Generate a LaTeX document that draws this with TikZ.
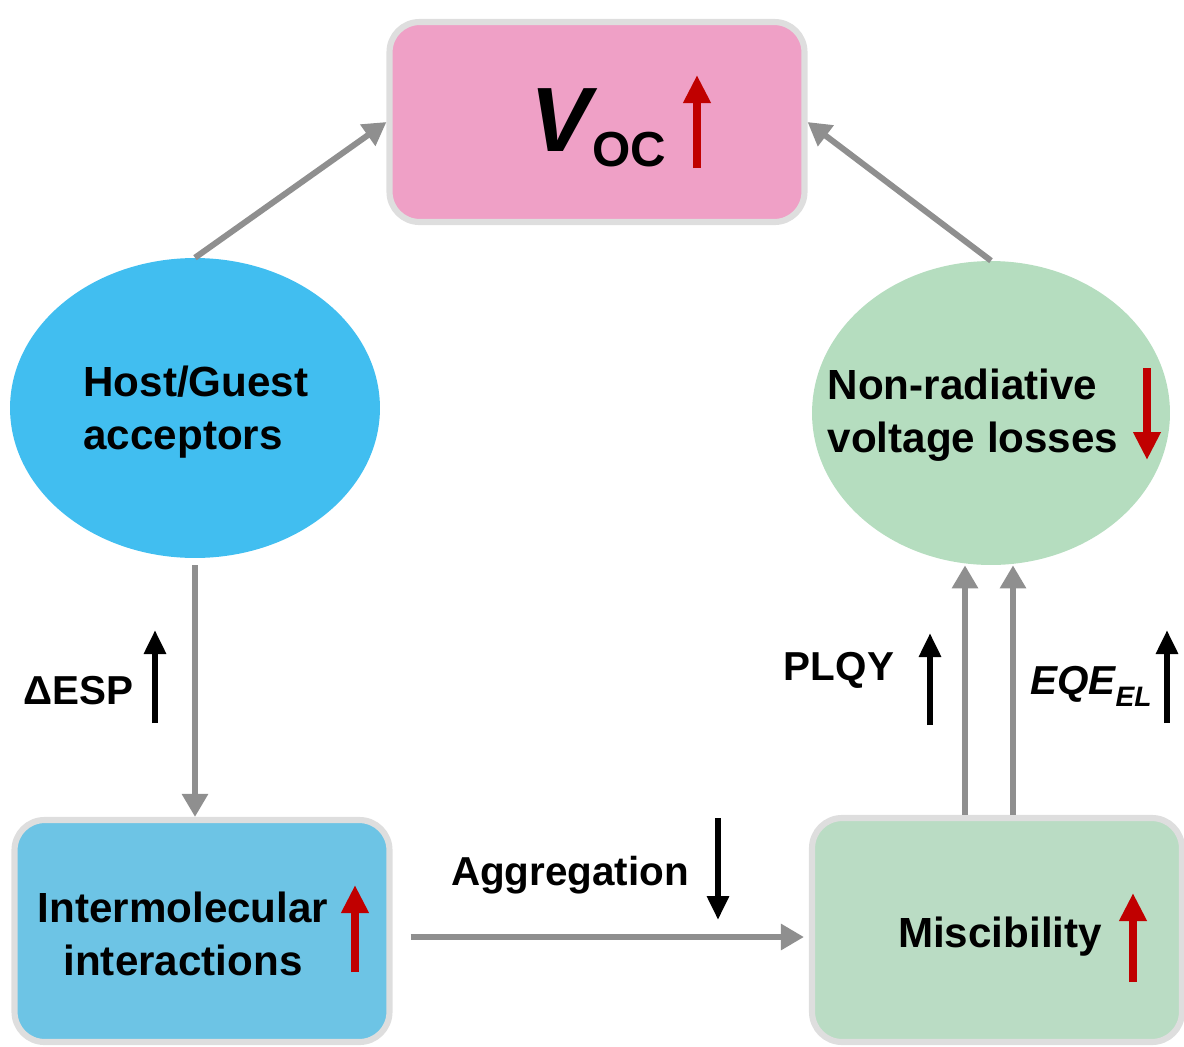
\documentclass[tikz,border=0pt]{standalone}
\usepackage{fontspec}
\setmainfont{Liberation Sans}
\usetikzlibrary{arrows.meta,shapes.geometric,calc}
\definecolor{pinkc}{HTML}{EFA0C6}
\definecolor{bluec}{HTML}{41BEF0}
\definecolor{lbluec}{HTML}{6DC4E5}
\definecolor{greenc}{HTML}{B5DDBF}
\definecolor{lgreenc}{HTML}{BADCC4}
\definecolor{bordc}{HTML}{DEDEDE}
\definecolor{connc}{HTML}{8F8F8F}
\definecolor{redc}{HTML}{C00000}
\begin{document}
\begin{tikzpicture}[x=0.02cm,y=-0.02cm,
  rbox/.style={rectangle, rounded corners=0.6cm, draw=bordc, line width=3.5pt, inner sep=0pt},
  oval/.style={ellipse, inner sep=0pt},
  conn/.style={draw=connc, line width=3.4pt, -{Triangle[width=0.5cm,length=0.46cm]}},
  redarr/.style={draw=redc, line width=4.2pt, -{Triangle[width=0.52cm,length=0.56cm]}},
  blkarr/.style={draw=black, line width=3.4pt, -{Triangle[width=0.42cm,length=0.48cm]}},
  txt/.style={font=\fontsize{24}{30}\selectfont\bfseries, inner sep=0pt},
  lbl/.style={font=\fontsize{23}{28}\selectfont\bfseries, inner sep=0pt}]
\useasboundingbox (0,0) rectangle (1184,1046);

% nodes
\node[rbox, fill=pinkc, minimum width=8.3cm, minimum height=4cm] (voc) at (597,122) {};
\node[oval, fill=bluec, minimum width=7.4cm, minimum height=6cm] (hg) at (195,408) {};
\node[oval, fill=greenc, minimum width=7.16cm, minimum height=6.08cm] (nr) at (991,413) {};
\node[rbox, fill=lbluec, minimum width=7.5cm, minimum height=4.44cm] (il) at (202,931) {};
\node[rbox, fill=lgreenc, minimum width=7.4cm, minimum height=4.48cm] (mis) at (997,930) {};

% texts
\node[inner sep=0pt, anchor=base west, font=\fontsize{52}{52}\selectfont\bfseries] (vtxt) at (530,151)
  {\itshape V\kern0.02cm\raisebox{-0.3cm}{\fontsize{28}{28}\selectfont\upshape OC}};
\node[txt, align=left] (hgtxt) at (196,412) {Host/Guest\\acceptors};
\node[txt, align=left] (nrtxt) at (973,415) {Non-radiative\\voltage losses};
\node[txt, align=center] (iltxt) at (183,934) {Intermolecular\\interactions};
\node[txt] (mistxt) at (1000,937) {Miscibility};

\node[lbl] (desp) at (78,691) {ΔESP};
\node[lbl] (agg) at (570,875) {Aggregation};
\node[lbl] (plqy) at (839,670) {PLQY};
\node[lbl, anchor=base west] (eqe) at (1030,694) {\itshape EQE\raisebox{-0.3em}{\fontsize{16}{16}\selectfont\itshape EL}};

% connectors
\draw[conn] (hg.north) -- (voc.west);
\draw[conn] (nr.north) -- (voc.east);
\draw[conn] ([yshift=-0.14cm]hg.south) -- (hg.south |- il.north);
\draw[conn] ([xshift=0.36cm,yshift=-0.12cm]il.east) -- ([xshift=-0.1cm,yshift=-0.12cm]il.east -| mis.west);
\draw[conn] ([xshift=-0.64cm]mis.north) -- ([xshift=-0.64cm]mis.north |- nr.south);
\draw[conn] ([xshift=0.32cm]mis.north) -- ([xshift=0.32cm]mis.north |- nr.south);

% indicator arrows
\draw[redarr] (697,168) -- (697,75);
\draw[redarr] (1147,368) -- (1147,460);
\draw[redarr] (355,972) -- (355,885);
\draw[redarr] (1133,982) -- (1133,893);
\draw[blkarr] (155,723) -- (155,630);
\draw[blkarr] (718,818) -- (718,920);
\draw[blkarr] (930,725) -- (930,633);
\draw[blkarr] (1167,723) -- (1167,630);
\end{tikzpicture}
\end{document}
